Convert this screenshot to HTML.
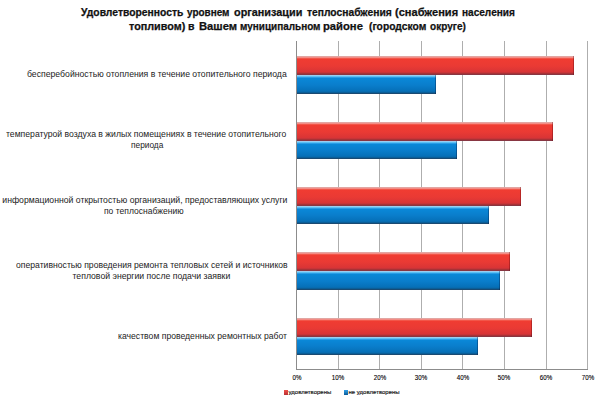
<!DOCTYPE html><html><head><meta charset="utf-8"><style>
html,body{margin:0;padding:0;background:#fff;width:600px;height:400px;overflow:hidden;position:relative;font-family:"Liberation Sans",sans-serif;}
.a{position:absolute;}
.tw{position:absolute;white-space:pre;font-weight:bold;font-size:10.6px;color:#111;-webkit-text-stroke:0.25px #111;transform-origin:0 0;}
.t{position:absolute;white-space:nowrap;font-weight:bold;font-size:10.6px;color:#111;-webkit-text-stroke:0.25px #111;left:0;width:596px;text-align:center;}
.l{position:absolute;white-space:pre;font-size:8.68px;line-height:11.5px;color:#1c1c1c;transform-origin:0 0;}
.g{position:absolute;width:1px;background:#aeaeae;top:41px;height:328px;}
.red{position:absolute;left:297px;box-shadow:inset -1px 0 rgba(90,0,10,0.35);background:linear-gradient(#e2a6a2 0 1px,#f48c86 1px 2px,#f25649 2px 3px,#f03c32 3px,#ea3a34 calc(100% - 9px),#d83436 calc(100% - 3px),#c83438 calc(100% - 3px) calc(100% - 2px),#a83236 calc(100% - 2px) calc(100% - 1px),#883642 calc(100% - 1px));}
.blue{position:absolute;left:297px;box-shadow:inset -1px 0 rgba(0,20,60,0.35);background:linear-gradient(#9ccdf0 0 1px,#5cc0f4 1px 2px,#2a9ce6 2px 3px,#0a88d8 3px,#0a7ecc calc(100% - 9px),#0670b8 calc(100% - 3px),#086cb0 calc(100% - 3px) calc(100% - 2px),#0a5e98 calc(100% - 2px) calc(100% - 1px),#1a4a72 calc(100% - 1px));}
.x{position:absolute;font-size:7px;color:#000;-webkit-text-stroke:0.12px #000;width:30px;text-align:center;top:373.6px;transform:scaleX(0.88);}
</style></head><body>

<div class="tw" style="left:80.60px;top:6.2px;transform:scaleX(0.9752)">Удовлетворенность</div>
<div class="tw" style="left:186.85px;top:6.2px;transform:scaleX(0.9400)">уровнем</div>
<div class="tw" style="left:234.40px;top:6.2px;transform:scaleX(1.0239)">организации</div>
<div class="tw" style="left:307.00px;top:6.2px;transform:scaleX(0.9701)">теплоснабжения</div>
<div class="tw" style="left:395.40px;top:6.2px;transform:scaleX(1.0433)">(снабжения</div>
<div class="tw" style="left:462.40px;top:6.2px;transform:scaleX(0.9500)">населения</div>
<div class="tw" style="left:129.00px;top:20.2px;transform:scaleX(1.0182)">топливом)</div>
<div class="tw" style="left:188.00px;top:20.2px;transform:scaleX(1.0000)">в</div>
<div class="tw" style="left:199.22px;top:20.2px;transform:scaleX(1.0600)">Вашем</div>
<div class="tw" style="left:239.80px;top:20.2px;transform:scaleX(0.9400)">муниципальном</div>
<div class="tw" style="left:323.36px;top:20.2px;transform:scaleX(1.0600)">районе</div>
<div class="tw" style="left:368.60px;top:20.2px;transform:scaleX(0.9729)">(городском</div>
<div class="tw" style="left:430.00px;top:20.2px;transform:scaleX(0.9474)">округе)</div>
<div class="g" style="left:296px;background:#8c8c8c"></div>
<div class="g" style="left:338px"></div>
<div class="g" style="left:379px"></div>
<div class="g" style="left:421px"></div>
<div class="g" style="left:462px"></div>
<div class="g" style="left:504px"></div>
<div class="g" style="left:546px"></div>
<div class="g" style="left:587px"></div>
<div class="a" style="left:296px;top:369px;width:292px;height:1px;background:#8c8c8c"></div>
<div class="red" style="top:56px;height:19px;width:277px"></div>
<div class="blue" style="top:75px;height:19px;width:139px"></div>
<div class="red" style="top:122px;height:19px;width:256px"></div>
<div class="blue" style="top:141px;height:18px;width:160px"></div>
<div class="red" style="top:187px;height:19px;width:224px"></div>
<div class="blue" style="top:206px;height:18px;width:192px"></div>
<div class="red" style="top:252px;height:19px;width:213px"></div>
<div class="blue" style="top:271px;height:19px;width:203px"></div>
<div class="red" style="top:318px;height:19px;width:235px"></div>
<div class="blue" style="top:337px;height:18px;width:181px"></div>
<div class="l m" style="left:27.00px;top:69.45px;transform:scaleX(1.0000)">бесперебойностью отопления в течение отопительного периода</div>
<div class="l m" style="left:6.20px;top:129.10px;transform:scaleX(0.9957)">температурой воздуха в жилых помещениях в течение отопительного</div>
<div class="l m" style="left:130.60px;top:139.90px;transform:scaleX(0.9588)">периода</div>
<div class="l m" style="left:2.30px;top:194.50px;transform:scaleX(1.0000)">информационной открытостью организаций, предоставляющих услуги</div>
<div class="l m" style="left:104.00px;top:206.00px;transform:scaleX(0.9846)">по теплоснабжению</div>
<div class="l m" style="left:15.50px;top:259.90px;transform:scaleX(0.9945)">оперативностью проведения ремонта тепловых сетей и источников</div>
<div class="l m" style="left:72.50px;top:271.40px;transform:scaleX(1.0000)">тепловой энергии после подачи заявки</div>
<div class="l m" style="left:118.30px;top:331.10px;transform:scaleX(0.9941)">качеством проведенных ремонтных работ</div>
<div class="x m" style="left:281.5px">0%</div>
<div class="x m" style="left:323.1px">10%</div>
<div class="x m" style="left:364.6px">20%</div>
<div class="x m" style="left:406.2px">30%</div>
<div class="x m" style="left:447.8px">40%</div>
<div class="x m" style="left:489.4px">50%</div>
<div class="x m" style="left:530.9px">60%</div>
<div class="x m" style="left:572.5px">70%</div>
<div class="a" style="left:284px;top:390px;width:4px;height:5px;background:linear-gradient(#f05048,#b83034)"></div>
<div class="a m" style="left:288.5px;top:389.3px;font-size:6px;line-height:6px;color:#111;-webkit-text-stroke:0.15px #111">удовлетворены</div>
<div class="a" style="left:344px;top:390px;width:4px;height:5px;background:linear-gradient(#30a0e8,#0a5a98)"></div>
<div class="a m" style="left:348.5px;top:389.3px;font-size:6px;line-height:6px;color:#111;-webkit-text-stroke:0.15px #111">не удовлетворены</div>
</body></html>
